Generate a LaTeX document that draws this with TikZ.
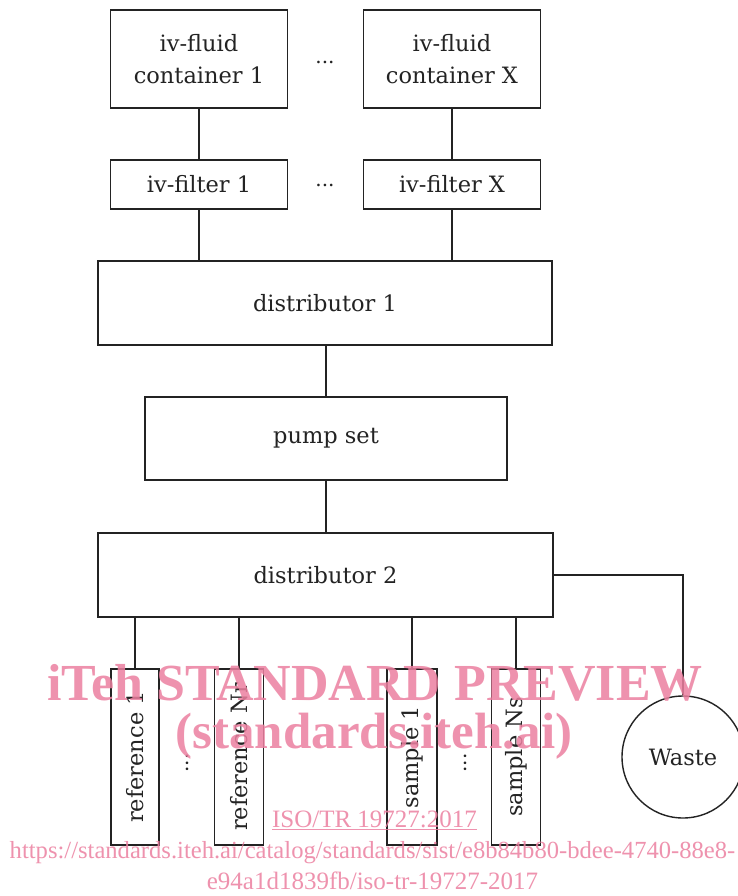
\documentclass[tikz,border=0pt]{standalone}
\usepackage{fontspec}
\setmainfont{DejaVu Serif}
\newfontfamily\wmfont{Liberation Serif}
\definecolor{wmpink}{RGB}{236,128,160}
\definecolor{ink}{RGB}{35,35,35}
\begin{document}
\begin{tikzpicture}[x=1pt,y=-1pt,
  box/.style={draw=ink, line width=1.4pt, inner sep=0pt, text=ink, align=center,
    font=\fontsize{22.5}{32}\selectfont},
  vbox/.style={box, minimum width=176pt, rotate=90},
  conn/.style={draw=ink, line width=1.4pt},
  dots/.style={text=ink, font=\fontsize{20}{22}\selectfont, inner sep=0pt},
  wm/.style={text=wmpink, opacity=0.85, inner sep=0pt, anchor=base}]
\useasboundingbox (0,0) rectangle (737,896);
\fill[white] (0,0) rectangle (737,896);
% top row
\node[box, minimum width=177pt, minimum height=98pt] (c1) at (199,59) {iv-fluid\\container 1};
\node[box, minimum width=177pt, minimum height=98pt] (cX) at (452,59) {iv-fluid\\container X};
\node[dots] (dt1) at (325,62) {...};
\node[box, minimum width=177pt, minimum height=49pt] (f1) at (199,184.5) {iv-filter 1};
\node[box, minimum width=177pt, minimum height=49pt] (fX) at (452,184.5) {iv-filter X};
\node[dots] (dt2) at (325,185) {...};
\node[box, minimum width=454pt, minimum height=84pt] (d1) at (325,303) {distributor 1};
\node[box, minimum width=362pt, minimum height=83pt] (pump) at (326,438.5) {pump set};
\node[box, minimum width=455pt, minimum height=84pt] (d2) at (325.5,575) {distributor 2};
% bottom
\node[vbox, minimum height=48pt] (r1) at (135,757) {reference 1};
\node[vbox, minimum height=49pt] (rN) at (239,757) {reference Nr};
\node[vbox, minimum height=50pt] (s1) at (412,757) {sample 1};
\node[vbox, minimum height=49pt] (sN) at (516,757) {sample Ns};
\node[dots, rotate=90] (dt3) at (187,763) {...};
\node[dots, rotate=90] (dt4) at (465,763) {...};
\node[draw=ink, line width=1.4pt, circle, minimum size=122pt, inner sep=0pt, text=ink,
  font=\fontsize{22.5}{26}\selectfont] (waste) at (683,757) {Waste};
% connectors
\draw[conn] (c1.south) -- (f1.north);
\draw[conn] (cX.south) -- (fX.north);
\draw[conn] (f1.south) -- (f1.south |- d1.north);
\draw[conn] (fX.south) -- (fX.south |- d1.north);
\draw[conn] (d1.south -| pump.north) -- (pump.north);
\draw[conn] (pump.south) -- (pump.south |- d2.north);
\draw[conn] (r1.east |- d2.south) -- (r1.east);
\draw[conn] (rN.east |- d2.south) -- (rN.east);
\draw[conn] (s1.east |- d2.south) -- (s1.east);
\draw[conn] (sN.east |- d2.south) -- (sN.east);
\draw[conn] (d2.east) -| (waste.north);
% watermark
\node[wm, font=\wmfont\bfseries\fontsize{52}{52}\selectfont] (wm1) at (375,700) {iTeh STANDARD PREVIEW};
\node[wm, font=\wmfont\bfseries\fontsize{51}{51}\selectfont] (wm2) at (374,748) {(standards.iteh.ai)};
\node[wm, font=\wmfont\fontsize{25}{25}\selectfont] (wm3) at (374.5,827) {\underline{ISO/TR 19727:2017}};
\node[wm, font=\wmfont\fontsize{24.6}{25}\selectfont] (wm4) at (372.5,858) {https://standards.iteh.ai/catalog/standards/sist/e8b84b80-bdee-4740-88e8-};
\node[wm, font=\wmfont\fontsize{25}{25}\selectfont] (wm5) at (372.5,889) {e94a1d1839fb/iso-tr-19727-2017};
\end{tikzpicture}
\end{document}
